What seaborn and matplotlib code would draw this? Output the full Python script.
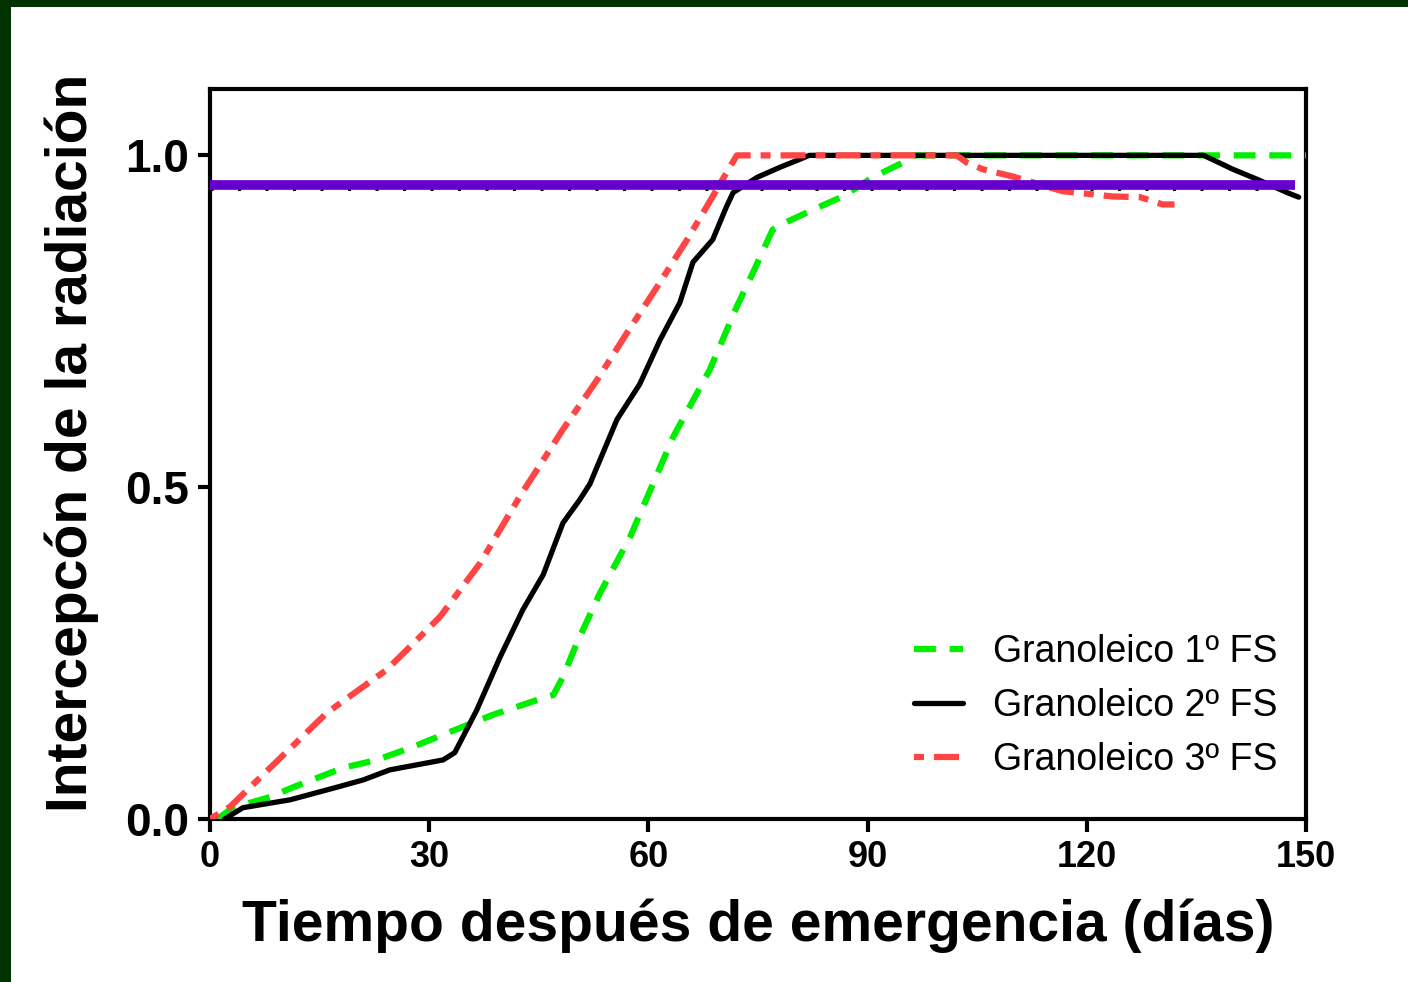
import numpy as np
import pandas as pd
import matplotlib
matplotlib.use("Agg")
import matplotlib.pyplot as plt
from matplotlib.patches import Rectangle
import seaborn as sns

# ---- data ----
dias_fs1 = [1, 3.1, 8.2, 11.4, 18.2, 22.8, 27.4, 31.9, 38.7, 44.7, 47, 48.3, 50.2, 53.4,
            57.5, 63.4, 68.4, 72.1, 74.3, 77, 79, 82.5, 86.6, 90.7, 94.8, 96.5, 150]
int_fs1 = [0, 0.017, 0.033, 0.048, 0.077, 0.089, 0.107, 0.127, 0.157, 0.179, 0.187, 0.214, 0.265, 0.341,
           0.425, 0.576, 0.677, 0.772, 0.823, 0.888, 0.9, 0.918, 0.938, 0.967, 0.989, 1.0, 1.0]

dias_fs2 = [2, 4.5, 11, 17.4, 21, 24.6, 31.9, 33.5, 36.5, 39.7, 42.8, 45.6, 48.3, 50.6, 52, 55.7,
            58.8, 61.6, 64.3, 66.1, 68.8, 70.7, 71.6, 74.9, 78, 80.7, 82, 136, 140, 143.3, 147.4, 149]
int_fs2 = [0, 0.017, 0.029, 0.048, 0.059, 0.074, 0.089, 0.1, 0.164, 0.244, 0.315, 0.368, 0.446, 0.481,
           0.505, 0.602, 0.655, 0.722, 0.778, 0.839, 0.873, 0.923, 0.944, 0.967, 0.982, 0.994, 1.0, 1.0,
           0.979, 0.964, 0.944, 0.937]

dias_fs3 = [0, 2.7, 16, 24.2, 29.7, 31.5, 37, 42.4, 48.3, 53, 57.1, 61.2, 65.3, 68, 70.7, 72.1, 102.2,
            103.6, 105.8, 109.9, 116.7, 123.6, 127.3, 130.4, 132]
int_fs3 = [0, 0.018, 0.16, 0.225, 0.285, 0.305, 0.386, 0.486, 0.587, 0.662, 0.733, 0.802, 0.873, 0.923,
           0.974, 1.0, 1.0, 0.989, 0.979, 0.968, 0.946, 0.938, 0.937, 0.926, 0.926]

series = ["Granoleico 1º FS", "Granoleico 2º FS", "Granoleico 3º FS"]
umbral_punteado = 0.95
umbral_morado = 0.955
morado_inicio, morado_fin = 0, 148.5
x_ticks = [0, 30, 60, 90, 120, 150]
y_ticks = [0.0, 0.5, 1.0]

df = pd.concat([
    pd.DataFrame({"dia": dias_fs1, "val": int_fs1, "serie": series[0]}),
    pd.DataFrame({"dia": dias_fs2, "val": int_fs2, "serie": series[1]}),
    pd.DataFrame({"dia": dias_fs3, "val": int_fs3, "serie": series[2]}),
], ignore_index=True)

sns.set_theme(style="white")
plt.rcParams["font.family"] = ["Liberation Sans", "DejaVu Sans"]
plt.rcParams["text.color"] = "black"
plt.rcParams["axes.labelcolor"] = "black"
plt.rcParams["xtick.color"] = "black"
plt.rcParams["ytick.color"] = "black"

fig = plt.figure(figsize=(14.08, 9.82), dpi=100)
fig.patch.set_facecolor("#003300")
fig.add_artist(Rectangle((11 / 1408, 0), 1, 1 - 7 / 982, transform=fig.transFigure,
                         facecolor="white", edgecolor="none", zorder=0))
ax = fig.add_axes([210 / 1408, 1 - 819 / 982, (1306 - 210) / 1408, (819 - 89) / 982])
ax.set_facecolor("white")

palette = {series[0]: "#00EE00", series[1]: "#000000", series[2]: "#FF4444"}
dashes = {series[0]: (3.5, 2.2), series[1]: "", series[2]: (1.6, 1.6, 4, 1.6)}
widths = {series[0]: 4.5, series[1]: 3.8, series[2]: 4.5}

for s in series:
    sub = df[df["serie"] == s]
    sns.lineplot(data=sub, x="dia", y="val", ax=ax, color=palette[s],
                 lw=widths[s], label=s, estimator=None, sort=False, zorder=3)
    ln = ax.get_lines()[-1]
    if dashes[s]:
        ln.set_dashes(dashes[s])

ax.axhline(umbral_punteado, color="black", lw=2.2, ls=(0, (1, 8)), zorder=2)
ax.hlines(umbral_morado, morado_inicio, morado_fin, color="#6600CC", lw=7, zorder=4)

ax.set_xlim(0, 150)
ax.set_ylim(0, 1.1)
ax.set_xticks(x_ticks)
ax.set_yticks(y_ticks)
ax.set_xticklabels([str(v) for v in x_ticks], fontsize=26, fontweight="bold")
ax.set_yticklabels([f"{v:.1f}" for v in y_ticks], fontsize=33, fontweight="bold")
ax.tick_params(axis="both", direction="out", length=9, width=3, color="black",
               labelcolor="black", bottom=True, left=True, pad=6)
for sp in ax.spines.values():
    sp.set_linewidth(3)
    sp.set_color("black")
    sp.set_visible(True)

ax.set_xlabel("Tiempo después de emergencia (días)", fontsize=41, fontweight="bold",
              labelpad=17, color="black")
ax.set_ylabel("Intercepcón de la radiación", fontsize=41, fontweight="bold", color="black")
ax.yaxis.set_label_coords(-0.101, 0.515)

leg = ax.legend(loc="lower right", frameon=False, fontsize=27, handlelength=1.3,
                handletextpad=0.8, labelspacing=0.48, bbox_to_anchor=(1.005, 0.01))
for t in leg.get_texts():
    t.set_color("black")

fig.savefig("out.png", dpi=100, facecolor=fig.get_facecolor())
